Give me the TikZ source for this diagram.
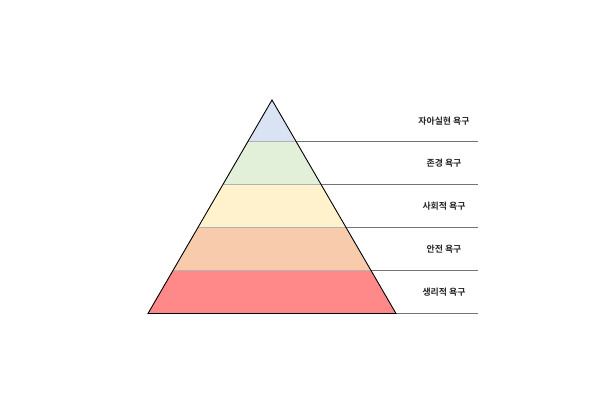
\documentclass[tikz,border=0pt]{standalone}
\usepackage{fontspec}
\newfontfamily\kr{Noto Sans CJK KR}[BoldFont={Noto Sans CJK KR Bold}]
\begin{document}
\begin{tikzpicture}[x=1pt,y=-1pt,
  lbl/.style={font=\kr\bfseries\fontsize{8.9}{10}\selectfont, text=black!85, inner sep=0pt},
  guide/.style={draw=black!55, line width=0.6pt},
  band/.style={draw=none}]
\useasboundingbox (0,0) rectangle (606,420);
\coordinate (apex) at (272,100);
\coordinate (bl) at (148,313.5);
\coordinate (br) at (396,313.5);
% band boundary coordinates
\foreach \n/\y in {1/141.5,2/184.5,3/227.5,4/270.5}{
  \pgfmathsetmacro\dx{(\y-100)/213.5*124}
  \coordinate (L\n) at ({272-\dx},\y);
  \coordinate (R\n) at ({272+\dx},\y);
}
\fill[color={rgb,255:red,218;green,227;blue,243}] (apex) -- (R1) -- (L1) -- cycle;
\fill[color={rgb,255:red,226;green,240;blue,217}] (L1) -- (R1) -- (R2) -- (L2) -- cycle;
\fill[color={rgb,255:red,255;green,242;blue,204}] (L2) -- (R2) -- (R3) -- (L3) -- cycle;
\fill[color={rgb,255:red,248;green,203;blue,173}] (L3) -- (R3) -- (R4) -- (L4) -- cycle;
\fill[color={rgb,255:red,255;green,137;blue,137}] (L4) -- (R4) -- (br) -- (bl) -- cycle;
\foreach \n in {1,2,3,4}{ \draw[black!30, line width=0.5pt] (L\n) -- (R\n); }
% guide lines
\coordinate (E1) at (478,141.5);
\coordinate (E2) at (478,184.5);
\coordinate (E3) at (478,227.5);
\coordinate (E4) at (478,270.5);
\coordinate (E5) at (478,313.5);
\draw[guide] (R1) -- (E1);
\draw[guide] (R2) -- (E2);
\draw[guide] (R3) -- (E3);
\draw[guide] (R4) -- (E4);
\draw[guide] (br) -- (E5);
\draw[black, line width=0.9pt, line join=miter] (apex) -- (br) -- (bl) -- cycle;
% labels
\node[lbl] (t1) at (444,121) {자아실현 욕구};
\node[lbl] (t2) at (444,163) {존경 욕구};
\node[lbl] (t3) at (444,206) {사회적 욕구};
\node[lbl] (t4) at (444,249) {안전 욕구};
\node[lbl] (t5) at (444,292) {생리적 욕구};
\end{tikzpicture}
\end{document}
